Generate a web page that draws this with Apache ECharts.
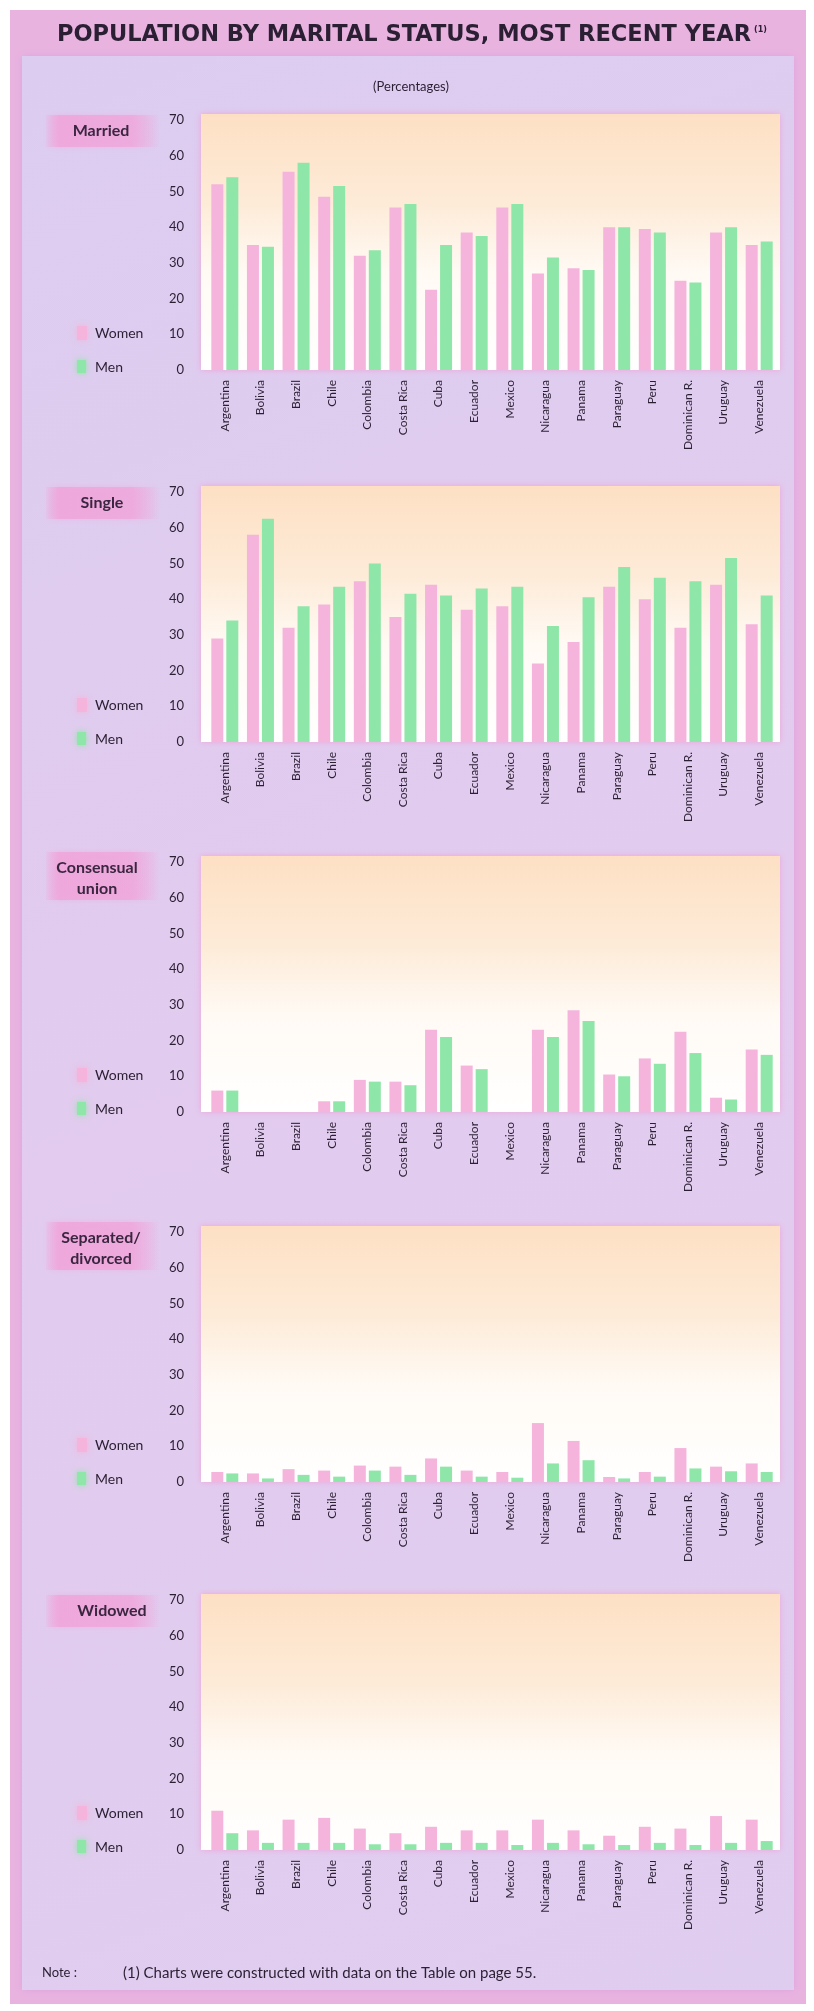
<!DOCTYPE html>
<html>
<head>
<meta charset="utf-8">
<script src="https://cdn.jsdelivr.net/npm/echarts@6/dist/echarts.min.js"></script>
<style>
  html, body { margin: 0; padding: 0; background: #ffffff; }
  #chart { width: 814px; height: 2011px; }
</style>
</head>
<body>
<div id="chart"></div>
<script>
// Countries along every x axis
const categories = ['Argentina', 'Bolivia', 'Brazil', 'Chile', 'Colombia', 'Costa Rica', 'Cuba', 'Ecuador',
  'Mexico', 'Nicaragua', 'Panama', 'Paraguay', 'Peru', 'Dominican R.', 'Uruguay', 'Venezuela'];

// Shared value axis ticks (percent)
const yTicks = [0, 10, 20, 30, 40, 50, 60, 70];

// Married
const marriedWomen = [52, 35, 55.5, 48.5, 32, 45.5, 22.5, 38.5, 45.5, 27, 28.5, 40, 39.5, 25, 38.5, 35];
const marriedMen   = [54, 34.5, 58, 51.5, 33.5, 46.5, 35, 37.5, 46.5, 31.5, 28, 40, 38.5, 24.5, 40, 36];

// Single
const singleWomen = [29, 58, 32, 38.5, 45, 35, 44, 37, 38, 22, 28, 43.5, 40, 32, 44, 33];
const singleMen   = [34, 62.5, 38, 43.5, 50, 41.5, 41, 43, 43.5, 32.5, 40.5, 49, 46, 45, 51.5, 41];

// Consensual union
const consensualWomen = [6, 0, 0, 3, 9, 8.5, 23, 13, 0, 23, 28.5, 10.5, 15, 22.5, 4, 17.5];
const consensualMen   = [6, 0, 0, 3, 8.5, 7.5, 21, 12, 0, 21, 25.5, 10, 13.5, 16.5, 3.5, 16];

// Separated / divorced
const separatedWomen = [2.8, 2.4, 3.6, 3.2, 4.6, 4.3, 6.6, 3.2, 2.8, 16.5, 11.5, 1.4, 2.8, 9.5, 4.3, 5.2];
const separatedMen   = [2.4, 1, 2, 1.5, 3.2, 2, 4.3, 1.5, 1.2, 5.2, 6.1, 1, 1.5, 3.8, 3, 2.8];

// Widowed
const widowedWomen = [11, 5.5, 8.5, 9, 6, 4.7, 6.5, 5.5, 5.5, 8.5, 5.5, 4, 6.5, 6, 9.5, 8.5];
const widowedMen   = [4.7, 2, 2, 2, 1.6, 1.6, 2, 2, 1.4, 2, 1.6, 1.4, 2, 1.4, 2, 2.5];

const panelNames = [['Married'], ['Single'], ['Consensual', 'union'], ['Separated/', 'divorced'], ['Widowed']];
const panelWomen = [marriedWomen, singleWomen, consensualWomen, separatedWomen, widowedWomen];
const panelMen   = [marriedMen, singleMen, consensualMen, separatedMen, widowedMen];

const WOMEN = '#f5b4dc';
const MEN = '#8ee6a8';
const INK = '#2b1f33';
const FONT = 'Lato, "Open Sans", sans-serif';

// panel geometry
const panelTop = [120, 492, 862, 1232, 1600];
const panelH = 250;
const gridLeft = 207, gridRight = 37;
const nameCx = [101, 102, 97, 101, 112];

const grids = [], xAxes = [], yAxes = [], series = [], graphics = [];

// helper for free-standing text anchored at a point
function label(x, y, text, font, align) {
  return { type: 'text', z: 10, x: x, y: y,
    style: { text: text, font: font, fill: INK, align: align || 'left', verticalAlign: 'middle' } };
}

// page frame
graphics.push({ type: 'rect', z: -20, shape: { x: 10, y: 10, width: 796, height: 1994 },
  style: { fill: '#e9b3e0' } });
graphics.push({ type: 'rect', z: -19, shape: { x: 22, y: 56, width: 772, height: 1934 },
  style: { fill: new echarts.graphic.LinearGradient(0, 0, 1, 1, [
    { offset: 0, color: '#dccdf0' }, { offset: 0.5, color: '#e2cbee' }, { offset: 1, color: '#dfcdef' }]),
    shadowBlur: 8, shadowColor: 'rgba(215,160,220,0.8)' } });

// title
graphics.push(Object.assign(label(404, 35, 'POPULATION BY MARITAL STATUS, MOST RECENT YEAR',
  'bold 22.5px "DejaVu Sans", sans-serif', 'center'), {}));
graphics.push(label(754, 30, '(1)', 'bold 8px "DejaVu Sans", sans-serif'));
graphics.push(label(411, 87, '(Percentages)', '13px ' + FONT, 'center'));

panelNames.forEach((name, i) => {
  const top = panelTop[i];
  grids.push({ left: gridLeft, right: gridRight, top: top, height: panelH, containLabel: false });
  xAxes.push({
    type: 'category', gridIndex: i, data: categories,
    axisLine: { show: false }, axisTick: { show: false },
    axisLabel: { rotate: 90, margin: 10, fontFamily: FONT, fontSize: 12, color: INK, interval: 0 }
  });
  yAxes.push({
    type: 'value', gridIndex: i, min: yTicks[0], max: yTicks[yTicks.length - 1], interval: yTicks[1] - yTicks[0],
    axisLine: { show: false }, axisTick: { show: false }, splitLine: { show: false },
    axisLabel: { margin: 23, fontFamily: FONT, fontSize: 13, color: INK }
  });
  series.push({
    name: 'Women', type: 'bar', xAxisIndex: i, yAxisIndex: i, data: panelWomen[i],
    barWidth: 12, barGap: '25%', itemStyle: { color: WOMEN }
  });
  series.push({
    name: 'Men', type: 'bar', xAxisIndex: i, yAxisIndex: i, data: panelMen[i],
    barWidth: 12, barGap: '25%', itemStyle: { color: MEN }
  });

  // plot background: peach at the top fading to white
  graphics.push({ type: 'rect', z: -5, shape: { x: 201, y: top - 6, width: 579, height: panelH + 6 },
    style: { fill: new echarts.graphic.LinearGradient(0, 0, 0, 1, [
      { offset: 0, color: '#fde0c4' }, { offset: 0.35, color: '#fdebd8' },
      { offset: 0.62, color: '#fffaf4' }, { offset: 1, color: '#ffffff' }]),
      shadowBlur: 6, shadowColor: 'rgba(240,160,215,0.9)' } });

  // panel name with a pink band behind it
  const two = name.length > 1;
  const bandH = two ? 48 : 32;
  const bandY = two ? top - 10 : top - 5;
  graphics.push({ type: 'rect', z: -4, shape: { x: 46, y: bandY, width: 114, height: bandH },
    style: { fill: new echarts.graphic.LinearGradient(0, 0, 1, 0, [
      { offset: 0, color: 'rgba(240,165,218,0.15)' }, { offset: 0.12, color: 'rgba(240,165,218,0.85)' },
      { offset: 0.75, color: 'rgba(240,165,218,0.75)' }, { offset: 1, color: 'rgba(240,165,218,0)' }]),
      shadowBlur: 6, shadowColor: 'rgba(240,165,218,0.6)' } });
  name.forEach((line, k) => {
    const t = label(nameCx[i], two ? top + 6 + k * 21 : top + 11, line, 'bold 16px ' + FONT, 'center');
    t.style.fill = '#3a2640';
    graphics.push(t);
  });

  // legend
  graphics.push({ type: 'rect', z: 1, shape: { x: 77, y: top + 206, width: 10, height: 14 },
    style: { fill: WOMEN, shadowBlur: 6, shadowColor: WOMEN } });
  graphics.push({ type: 'rect', z: 1, shape: { x: 77, y: top + 240, width: 9, height: 13 },
    style: { fill: MEN, shadowBlur: 6, shadowColor: MEN } });
  graphics.push(label(95, top + 213, 'Women', '14px ' + FONT));
  graphics.push(label(95, top + 247, 'Men', '14px ' + FONT));
});

// footnote
graphics.push(label(42, 1973, 'Note :', '13px ' + FONT));
graphics.push(label(123, 1973, '(1) Charts were constructed with data on the Table on page 55.', '15px ' + FONT));

const chart = echarts.init(document.getElementById('chart'), null, { renderer: 'canvas' });
chart.setOption({
  backgroundColor: 'transparent',
  animation: false,
  grid: grids,
  xAxis: xAxes,
  yAxis: yAxes,
  series: series,
  graphic: graphics
});
</script>
</body>
</html>
